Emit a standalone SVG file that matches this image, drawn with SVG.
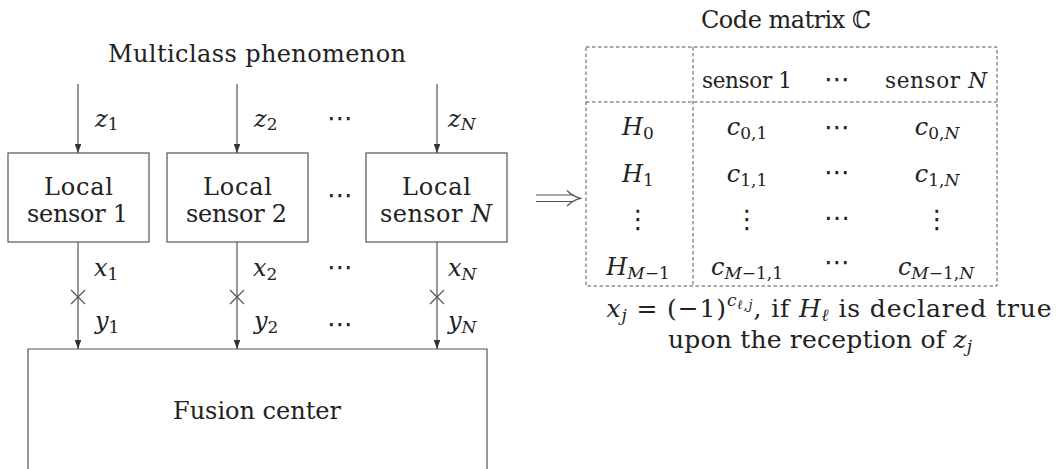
<svg xmlns="http://www.w3.org/2000/svg" width="1063" height="469" viewBox="0 0 1063 469">
<defs>
<style>
text{font-family:'DejaVu Serif','Liberation Serif',serif}
.t{font-family:'DejaVu Serif','Liberation Serif',serif;font-size:24px;fill:#222}
.h{font-size:21.5px}
.c{font-size:25px}
.i{font-style:italic}
.s{font-size:17px}
.ss{font-size:13px}
.ln{stroke:#555;stroke-width:1.2;fill:none}
.d{stroke:#555;stroke-width:1;fill:none;stroke-dasharray:3.5 2.5}
.dots{font-family:'DejaVu Sans',sans-serif;font-size:26px;fill:#222}
.box{fill:#fff;stroke:#555;stroke-width:1.2}
</style>
<marker id="ah" viewBox="0 0 10 10" refX="10" refY="5" markerWidth="9" markerHeight="6.5" markerUnits="userSpaceOnUse" orient="auto" preserveAspectRatio="none">
<path d="M0,0 L10,5 L0,10 z" fill="#333"/>
</marker>
</defs>
<rect width="1063" height="469" fill="#fff"/>

<text id="title" x="257" y="62" text-anchor="middle" class="t" textLength="298">Multiclass phenomenon</text>

<g id="connectors">
<line class="ln" x1="78" y1="84" x2="78" y2="153" marker-end="url(#ah)"/>
<line class="ln" x1="237" y1="84" x2="237" y2="153" marker-end="url(#ah)"/>
<line class="ln" x1="437" y1="84" x2="437" y2="153" marker-end="url(#ah)"/>
<line class="ln" x1="78" y1="242" x2="78" y2="349" marker-end="url(#ah)"/>
<line class="ln" x1="237" y1="242" x2="237" y2="349" marker-end="url(#ah)"/>
<line class="ln" x1="437" y1="242" x2="437" y2="349" marker-end="url(#ah)"/>
<path class="ln" d="M71,290 L85,304 M85,290 L71,304"/>
<path class="ln" d="M230,290 L244,304 M244,290 L230,304"/>
<path class="ln" d="M430,290 L444,304 M444,290 L430,304"/>
<g id="implies">
<path class="ln" d="M536,195 H574 M536,201.5 H574"/>
<path class="ln" d="M567,190.5 Q572,196 580.5,198.3 Q572,200.6 567,206"/>
</g>
</g>

<g id="labels">
<text class="t" x="95" y="127"><tspan class="i">z</tspan><tspan class="s" dy="3">1</tspan></text>
<text class="t" x="254" y="127"><tspan class="i">z</tspan><tspan class="s" dy="3">2</tspan></text>
<text class="t" x="448" y="127"><tspan class="i">z</tspan><tspan class="s i" dy="3">N</tspan></text>
<text class="dots" x="340" y="127" text-anchor="middle">⋯</text>
<text class="dots" x="340" y="204" text-anchor="middle">⋯</text>
<text class="t" x="94" y="276"><tspan class="i">x</tspan><tspan class="s" dy="4">1</tspan></text>
<text class="t" x="253" y="276"><tspan class="i">x</tspan><tspan class="s" dy="4">2</tspan></text>
<text class="t" x="448" y="276"><tspan class="i">x</tspan><tspan class="s i" dy="4">N</tspan></text>
<text class="dots" x="340" y="276" text-anchor="middle">⋯</text>
<text class="t" x="95" y="329"><tspan class="i">y</tspan><tspan class="s" dy="4">1</tspan></text>
<text class="t" x="254" y="329"><tspan class="i">y</tspan><tspan class="s" dy="4">2</tspan></text>
<text class="t" x="448" y="329"><tspan class="i">y</tspan><tspan class="s i" dy="4">N</tspan></text>
<text class="dots" x="340" y="333" text-anchor="middle">⋯</text>
</g>

<g id="sensor1">
<rect class="box" x="8" y="153" width="141" height="89"/>
<text class="t" x="78.5" y="195" text-anchor="middle" textLength="69">Local</text>
<text class="t" x="77.5" y="222" text-anchor="middle" textLength="101">sensor 1</text>
</g>
<g id="sensor2">
<rect class="box" x="167" y="153" width="141" height="89"/>
<text class="t" x="237.5" y="195" text-anchor="middle" textLength="69">Local</text>
<text class="t" x="236.5" y="222" text-anchor="middle" textLength="101">sensor 2</text>
</g>
<g id="sensorN">
<rect class="box" x="366" y="153" width="141" height="89"/>
<text class="t" x="436.5" y="195" text-anchor="middle" textLength="69">Local</text>
<text class="t" x="436" y="222" text-anchor="middle" textLength="112">sensor <tspan class="i">N</tspan></text>
</g>

<g id="fusion">
<path class="ln" d="M28,470 V349 H487 V470"/>
<text class="t" x="257" y="419" text-anchor="middle" textLength="168">Fusion center</text>
</g>

<g id="codematrix">
<text class="t" x="786" y="28" text-anchor="middle" textLength="170">Code matrix ℂ</text>
<rect class="d" x="586" y="47" width="411" height="239"/>
<line class="d" x1="693" y1="47" x2="693" y2="286"/>
<line class="d" x1="586" y1="102" x2="997" y2="102"/>
<text class="t h" x="747" y="88" text-anchor="middle" textLength="90">sensor 1</text>
<text class="dots" x="837" y="88" text-anchor="middle">⋯</text>
<text class="t h" x="936" y="88" text-anchor="middle" textLength="102">sensor <tspan class="i">N</tspan></text>

<text class="t" x="638" y="135" text-anchor="middle"><tspan class="i">H</tspan><tspan class="s" dy="4">0</tspan></text>
<text class="t" x="747" y="135" text-anchor="middle"><tspan class="i">c</tspan><tspan class="s" dy="4">0,1</tspan></text>
<text class="dots" x="837" y="136" text-anchor="middle">⋯</text>
<text class="t" x="937" y="135" text-anchor="middle"><tspan class="i">c</tspan><tspan class="s" dy="4">0,<tspan class="i">N</tspan></tspan></text>

<text class="t" x="638" y="182" text-anchor="middle"><tspan class="i">H</tspan><tspan class="s" dy="4">1</tspan></text>
<text class="t" x="747" y="182" text-anchor="middle"><tspan class="i">c</tspan><tspan class="s" dy="4">1,1</tspan></text>
<text class="dots" x="837" y="181" text-anchor="middle">⋯</text>
<text class="t" x="937" y="182" text-anchor="middle"><tspan class="i">c</tspan><tspan class="s" dy="4">1,<tspan class="i">N</tspan></tspan></text>

<text class="dots" x="638" y="228" text-anchor="middle" font-size="30">⋮</text>
<text class="dots" x="747" y="228" text-anchor="middle" font-size="30">⋮</text>
<text class="dots" x="837" y="220" text-anchor="middle">…</text>
<text class="dots" x="937" y="228" text-anchor="middle" font-size="30">⋮</text>

<text class="t" x="638" y="275" text-anchor="middle"><tspan class="i">H</tspan><tspan class="s" dy="4"><tspan class="i">M</tspan>−1</tspan></text>
<text class="t" x="747" y="275" text-anchor="middle"><tspan class="i">c</tspan><tspan class="s" dy="4"><tspan class="i">M</tspan>−1,1</tspan></text>
<text class="dots" x="837" y="271" text-anchor="middle">⋯</text>
<text class="t" x="936" y="275" text-anchor="middle"><tspan class="i">c</tspan><tspan class="s" dy="4"><tspan class="i">M</tspan>−1,<tspan class="i">N</tspan></tspan></text>
</g>

<g id="caption">
<text class="t c" x="829" y="317" text-anchor="middle" textLength="445" xml:space="preserve"><tspan class="i">x</tspan><tspan class="s i" dy="4">j</tspan><tspan dy="-4"> = (−1)</tspan><tspan class="s i" dy="-11">c</tspan><tspan class="ss" dy="3"><tspan class="i">ℓ</tspan>,<tspan class="i">j</tspan></tspan><tspan dy="8">, if </tspan><tspan class="i">H</tspan><tspan class="s i" dy="4">ℓ</tspan><tspan dy="-4"> is declared true</tspan></text>
<text class="t c" x="820" y="348" text-anchor="middle" textLength="304" xml:space="preserve">upon the reception of <tspan class="i">z</tspan><tspan class="s i" dy="4">j</tspan></text>
</g>
</svg>
